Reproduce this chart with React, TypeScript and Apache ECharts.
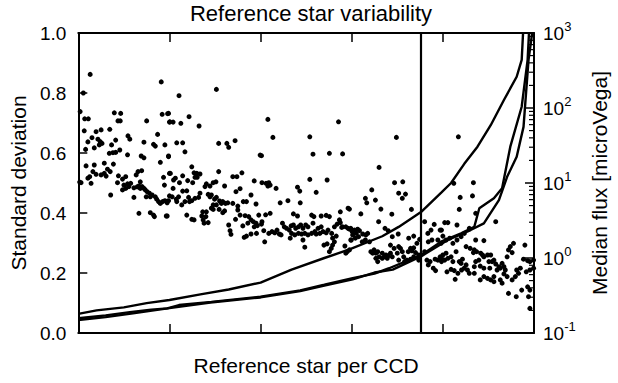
import { useEffect, useRef } from "react";
import * as echarts from "echarts";

// Standard deviation per reference star: [star index, std dev]
const stdDevPoints: [number, number][] = [
  [26,0.862],[11,0.80],[4,0.738],[14,0.714],[22,0.714],[13,0.674],[30,0.651],[39,0.671],[50,0.677],[69,0.679],
  [79,0.734],[93,0.732],[87,0.707],[92,0.707],[150,0.707],[182,0.837],[184,0.729],[196,0.731],[200,0.703],[21,0.637],
  [16,0.612],[35,0.617],[43,0.646],[48,0.638],[52,0.632],[46,0.627],[73,0.627],[82,0.643],[68,0.599],[76,0.601],
  [82,0.602],[91,0.61],[109,0.657],[113,0.646],[108,0.594],[144,0.636],[138,0.59],[144,0.584],[165,0.629],[169,0.623],
  [174,0.662],[190,0.627],[198,0.588],[180,0.569],[17,0.557],[35,0.56],[57,0.566],[77,0.563],[64,0.546],[70,0.538],
  [32,0.538],[39,0.529],[50,0.527],[57,0.532],[61,0.523],[25,0.521],[21,0.516],[28,0.499],[6,0.501],[3,0.503],
  [88,0.524],[86,0.501],[97,0.513],[104,0.521],[100,0.493],[108,0.497],[97,0.477],[104,0.482],[111,0.488],[115,0.499],
  [122,0.484],[129,0.487],[133,0.49],[136,0.482],[140,0.488],[127,0.527],[131,0.538],[139,0.541],[136,0.504],[122,0.452],
  [144,0.482],[147,0.477],[151,0.471],[149,0.454],[156,0.466],[162,0.46],[158,0.454],[169,0.454],[172,0.446],[176,0.438],
  [180,0.432],[185,0.438],[190,0.441],[194,0.438],[71,0.46],[133,0.399],[158,0.401],[165,0.393],[167,0.388],[193,0.39],
  [189,0.493],[187,0.519],[200,0.532],[200,0.457],
  [303,0.812],[221,0.791],[198,0.732],[201,0.704],[208,0.703],[225,0.699],[243,0.721],[265,0.69],[216,0.634],[229,0.634],
  [234,0.604],[308,0.632],[326,0.632],[330,0.619],[344,0.641],[198,0.59],[399,0.593],[249,0.554],[202,0.532],[229,0.524],
  [254,0.534],[260,0.532],[267,0.53],[261,0.519],[256,0.519],[308,0.538],[339,0.521],[348,0.521],[359,0.534],[209,0.51],
  [213,0.516],[208,0.482],[222,0.501],[240,0.508],[251,0.501],[281,0.497],[278,0.488],[289,0.49],[296,0.501],[302,0.504],
  [321,0.49],[346,0.471],[355,0.481],[386,0.507],[229,0.473],[238,0.474],[242,0.452],[234,0.438],[227,0.427],[220,0.454],
  [215,0.446],[216,0.438],[206,0.454],[195,0.434],[198,0.441],[267,0.466],[264,0.452],[256,0.449],[249,0.441],[244,0.438],
  [285,0.462],[292,0.46],[289,0.454],[299,0.446],[303,0.452],[310,0.44],[317,0.438],[323,0.432],[328,0.434],[314,0.432],
  [296,0.427],[303,0.427],[309,0.412],[321,0.407],[317,0.401],[296,0.412],[292,0.416],[281,0.404],[273,0.404],[271,0.39],
  [280,0.388],[274,0.377],[285,0.368],[276,0.366],[238,0.393],[249,0.379],[254,0.377],[339,0.432],[350,0.423],[350,0.41],
  [355,0.393],[362,0.438],[369,0.438],[379,0.46],[390,0.43],[366,0.391],[374,0.388],[379,0.377],[384,0.371],[390,0.366],
  [393,0.358],[372,0.366],[386,0.354],[330,0.36],[333,0.341],[335,0.329],[345,0.379],[361,0.357],[364,0.319],[369,0.323],
  [379,0.33],[391,0.332],[195,0.39],
  [416,0.712],[571,0.704],[427,0.652],[508,0.654],[402,0.591],[515,0.596],[551,0.599],[580,0.597],[403,0.501],[412,0.499],
  [418,0.501],[421,0.493],[416,0.49],[434,0.482],[508,0.512],[546,0.51],[481,0.486],[486,0.473],[522,0.469],[443,0.434],
  [460,0.441],[487,0.434],[592,0.416],[396,0.393],[411,0.394],[421,0.399],[472,0.397],[481,0.39],[512,0.393],[517,0.388],
  [533,0.39],[544,0.392],[551,0.388],[575,0.404],[403,0.371],[402,0.363],[407,0.341],[418,0.332],[425,0.338],[431,0.334],
  [436,0.343],[448,0.366],[452,0.354],[441,0.33],[445,0.327],[457,0.349],[463,0.343],[467,0.357],[472,0.36],[477,0.349],
  [483,0.354],[488,0.36],[493,0.349],[499,0.36],[504,0.354],[468,0.332],[475,0.327],[483,0.332],[490,0.33],[497,0.332],
  [504,0.327],[512,0.332],[519,0.338],[522,0.33],[530,0.332],[537,0.338],[544,0.334],[548,0.343],[533,0.354],[526,0.349],
  [515,0.366],[556,0.332],[562,0.354],[568,0.363],[573,0.377],[575,0.368],[578,0.352],[580,0.354],[587,0.354],[592,0.349],
  [598,0.349],[409,0.304],[465,0.316],[493,0.31],[497,0.286],[558,0.316],[562,0.304],[558,0.293],[555,0.282],[551,0.271],
  [546,0.297],[539,0.293],[566,0.323],[585,0.29],[590,0.271],[595,0.277],[598,0.31],[587,0.266],
  [698,0.652],[660,0.552],[694,0.501],[712,0.504],[703,0.466],[711,0.449],[718,0.463],[644,0.477],[630,0.449],[652,0.443],
  [633,0.434],[595,0.413],[620,0.397],[664,0.413],[688,0.396],[731,0.412],[659,0.371],[760,0.371],[781,0.362],[774,0.343],
  [767,0.332],[794,0.343],[595,0.346],[601,0.338],[606,0.343],[613,0.346],[617,0.341],[610,0.332],[602,0.327],[608,0.316],
  [599,0.31],[615,0.321],[624,0.33],[631,0.327],[635,0.332],[630,0.31],[623,0.304],[639,0.304],[673,0.349],[680,0.341],
  [702,0.33],[689,0.321],[725,0.316],[736,0.323],[743,0.299],[749,0.312],[768,0.304],[776,0.31],[789,0.31],[796,0.299],
  [642,0.271],[649,0.277],[653,0.266],[646,0.266],[657,0.271],[660,0.254],[653,0.249],[657,0.238],[667,0.266],[675,0.26],
  [671,0.254],[680,0.257],[685,0.266],[689,0.254],[667,0.249],[678,0.249],[693,0.282],[685,0.293],[703,0.288],[711,0.271],
  [707,0.282],[714,0.254],[724,0.271],[729,0.282],[736,0.284],[732,0.274],[740,0.268],[721,0.243],[729,0.246],[716,0.238],
  [747,0.26],[765,0.243],[772,0.238],[783,0.246],[789,0.243],[797,0.238],[768,0.227],[779,0.216],[784,0.208],[794,0.254],
  [760,0.271],[700,0.266],[703,0.243],[747,0.243],[736,0.254],
  [834,0.654],[867,0.501],[824,0.499],[865,0.457],[838,0.452],[836,0.412],[804,0.368],[811,0.368],[831,0.36],[916,0.371],
  [872,0.399],[797,0.343],[800,0.323],[807,0.31],[815,0.316],[822,0.299],[831,0.31],[840,0.321],[847,0.332],[858,0.349],
  [872,0.31],[890,0.308],[851,0.288],[860,0.282],[869,0.277],[874,0.271],[867,0.268],[883,0.266],[800,0.26],[807,0.266],
  [797,0.249],[804,0.243],[811,0.249],[818,0.254],[829,0.271],[822,0.238],[836,0.238],[843,0.246],[840,0.232],[851,0.227],
  [847,0.216],[854,0.21],[841,0.21],[833,0.199],[825,0.208],[818,0.212],[809,0.204],[827,0.179],[858,0.199],[869,0.221],
  [872,0.238],[879,0.243],[882,0.223],[887,0.26],[890,0.254],[898,0.26],[905,0.26],[912,0.243],[908,0.238],[901,0.238],
  [916,0.23],[923,0.221],[919,0.21],[926,0.216],[930,0.232],[934,0.221],[937,0.21],[948,0.288],[944,0.277],[952,0.268],
  [941,0.254],[955,0.299],[980,0.293],[977,0.246],[986,0.241],[991,0.238],[999,0.243],[999,0.216],[991,0.21],[983,0.204],
  [970,0.216],[962,0.21],[966,0.199],[959,0.188],[952,0.177],[941,0.188],[934,0.197],[926,0.177],[912,0.188],[905,0.177],
  [898,0.182],[890,0.188],[882,0.177],[869,0.199],[903,0.216],[890,0.216],[912,0.171],[930,0.166],[944,0.132],[961,0.121],
  [973,0.143],[986,0.154],[991,0.143],[988,0.121],[991,0.082]
];

// Median flux (sorted) per CCD: [star index, flux]
const fluxUpper: [number, number][] = [
  [0,0.18],[40,0.2],[100,0.22],[150,0.25],[200,0.275],[271,0.33],[330,0.38],[400,0.47],[468,0.7],[540,1.0],
  [595,1.3],[667,1.95],[703,2.6],[752,4.1],[797,7.5],[818,10],[847,18],[876,30.5],[905,59],[934,128],
  [962,261],[973,437],[976,1000]
];
const fluxMiddle: [number, number][] = [
  [0,0.157],[60,0.172],[113,0.19],[160,0.205],[195,0.213],[221,0.236],[292,0.26],[400,0.305],[487,0.37],[540,0.44],
  [602,0.54],[650,0.62],[682,0.73],[753,1.1],[796,1.65],[840,2.13],[869,2.61],[880,4.6],[912,6.25],[930,8.5],
  [948,30.5],[973,104],[986,437],[989,1000]
];
const fluxLower: [number, number][] = [
  [0,0.149],[60,0.163],[120,0.183],[200,0.215],[290,0.255],[400,0.298],[487,0.362],[540,0.43],[602,0.52],[650,0.64],
  [690,0.7],[753,1.06],[811,1.74],[861,2.36],[890,2.9],[923,5.9],[941,12.1],[962,22.4],[977,56],[988,437],[996,1000]
];

const cutoffIndex = 752;
const xMax = 1000;
const stdTicks = [0, 0.2, 0.4, 0.6, 0.8, 1.0];
const fluxMinorTicks = [
  0.2,0.3,0.4,0.5,0.6,0.7,0.8,0.9,
  2,3,4,5,6,7,8,9,
  20,30,40,50,60,70,80,90,
  200,300,400,500,600,700,800,900
];

const FONT = "'Liberation Sans', Arial, Helvetica, sans-serif";

export default function App() {
  const ref = useRef<HTMLDivElement>(null);
  useEffect(() => {
    if (!ref.current) return;
    const chart = echarts.init(ref.current, null, { renderer: "svg" });
    const axisLine = { show: true, onZero: false, lineStyle: { color: "#000", width: 2 } };
    const tick = { show: true, inside: true, length: 9, lineStyle: { color: "#000", width: 1.5 } };
    chart.setOption({
      animation: false,
      textStyle: { fontFamily: FONT, color: "#000" },
      title: {
        text: "Reference star variability",
        left: 306,
        textAlign: "center",
        top: -3,
        textStyle: { fontFamily: FONT, fontSize: 22, fontWeight: "normal", color: "#000" },
      },
      grid: { left: 75, right: 81, top: 33, bottom: 50, containLabel: false },
      xAxis: [
        {
          type: "value", min: 0, max: xMax, interval: 200,
          position: "bottom",
          name: "Reference star per CCD", nameLocation: "middle", nameGap: 22,
          nameTextStyle: { fontFamily: FONT, fontSize: 21, color: "#000" },
          axisLine, axisTick: tick,
          axisLabel: { show: false }, splitLine: { show: false },
        },
        {
          type: "value", min: 0, max: xMax, interval: 200,
          position: "top",
          axisLine, axisTick: tick,
          axisLabel: { show: false }, splitLine: { show: false },
        },
      ],
      yAxis: [
        {
          type: "value", min: stdTicks[0], max: stdTicks[stdTicks.length - 1], interval: 0.2,
          position: "left",
          name: "Standard deviation", nameLocation: "middle", nameGap: 48, nameRotate: 90,
          nameTextStyle: { fontFamily: FONT, fontSize: 21, color: "#000" },
          axisLine, axisTick: tick,
          axisLabel: { fontFamily: FONT, fontSize: 19, color: "#000", margin: 12, formatter: (v: number) => v.toFixed(1) },
          splitLine: { show: false },
        },
        {
          type: "log", logBase: 10, min: 0.1, max: 1000, splitNumber: 4,
          position: "right",
          name: "Median flux [microVega]", nameLocation: "middle", nameGap: 55, nameRotate: 90,
          nameTextStyle: { fontFamily: FONT, fontSize: 21, color: "#000" },
          axisLine, axisTick: tick,
          axisLabel: {
            margin: 9,
            formatter: (v: number) => `{b|10}{sup|${Math.round(Math.log10(v))}}`,
            rich: {
              b: { fontFamily: FONT, fontSize: 19, color: "#000", lineHeight: 26 },
              sup: { fontFamily: FONT, fontSize: 13, color: "#000", verticalAlign: "top", lineHeight: 14 },
            },
          },
          splitLine: { show: false },
        },
      ],
      series: [
        {
          type: "scatter", xAxisIndex: 0, yAxisIndex: 0,
          data: stdDevPoints, symbolSize: 5,
          itemStyle: { color: "#000", opacity: 1 },
          markLine: {
            silent: true, symbol: "none", label: { show: false },
            lineStyle: { color: "#000", width: 2.2, type: "solid" },
            data: [{ xAxis: cutoffIndex }],
          },
        },
        ...[fluxUpper, fluxMiddle, fluxLower].map((d) => ({
          type: "line", xAxisIndex: 0, yAxisIndex: 1, data: d,
          showSymbol: false, symbol: "none", clip: true,
          lineStyle: { color: "#000", width: 2.4 },
        })),
        {
          type: "custom", xAxisIndex: 0, yAxisIndex: 1, silent: true,
          data: fluxMinorTicks.map((v) => [xMax, v]),
          renderItem: (_params: any, api: any) => {
            const p = api.coord([api.value(0), api.value(1)]);
            return {
              type: "line",
              shape: { x1: p[0] - 5, y1: p[1], x2: p[0], y2: p[1] },
              style: { stroke: "#000", lineWidth: 1.2 },
            };
          },
        },
      ],
    });
    return () => chart.dispose();
  }, []);
  return <div ref={ref} style={{ position: "fixed", left: 0, top: 0, width: 618, height: 383, background: "#fff" }} />;
}
